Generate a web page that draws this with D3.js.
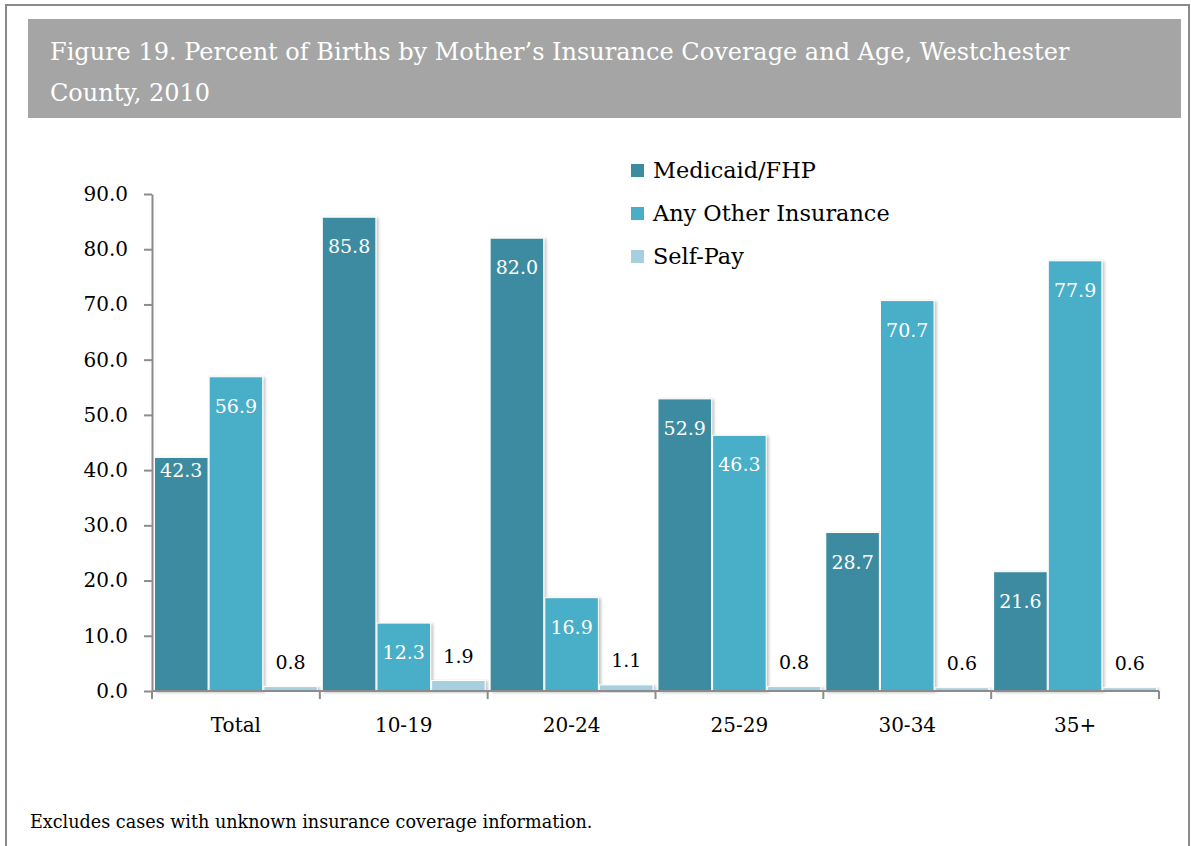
<!DOCTYPE html>
<meta charset="utf-8">
<style>
  body { margin: 0; background: #fff; }
  text { font-family: "DejaVu Serif", serif; }
  .axis path, .axis line { stroke: #8c8c8c; stroke-width: 2px; }
  .axis text { fill: #000; font-size: 20px; font-family: "DejaVu Serif", serif; }
</style>
<svg width="1191" height="846"></svg>
<script src="https://cdn.jsdelivr.net/npm/d3@7"></script>
<script>

  // data
  var categories = ["Total", "10-19", "20-24", "25-29", "30-34", "35+"];
  var seriesNames = ["Medicaid/FHP", "Any Other Insurance", "Self-Pay"];
  var medicaid = [42.3, 85.8, 82.0, 52.9, 28.7, 21.6];
  var otherIns = [56.9, 12.3, 16.9, 46.3, 70.7, 77.9];
  var selfPay = [0.8, 1.9, 1.1, 0.8, 0.6, 0.6];
  var yTicks = [0, 10, 20, 30, 40, 50, 60, 70, 80, 90];
  var colors = ["#3d8ba1", "#4aaec8", "#a8cfe0"];

  var series = [medicaid, otherIns, selfPay];

  var svg = d3.select("svg");

  var defs = svg.append("defs");
  var f = defs.append("filter").attr("id", "shadow")
      .attr("x", "-10%").attr("y", "-10%").attr("width", "130%").attr("height", "130%");
  f.append("feDropShadow").attr("dx", 2).attr("dy", 1).attr("stdDeviation", 1.5)
      .attr("flood-color", "#000").attr("flood-opacity", 0.25);

  // outer frame
  svg.append("path")
      .attr("d", "M6,846 V5 H1189 V846")
      .attr("fill", "none").attr("stroke", "#8a8a8a").attr("stroke-width", 2);

  // title band
  svg.append("rect").attr("x", 28).attr("y", 19).attr("width", 1153).attr("height", 99)
      .attr("fill", "#a5a5a5");
  var title = svg.append("text").attr("fill", "#fff").attr("font-size", 24);
  title.append("tspan").attr("x", 50).attr("y", 60)
      .text("Figure 19. Percent of Births by Mother\u2019s Insurance Coverage and Age, Westchester");
  title.append("tspan").attr("x", 50).attr("y", 101).text("County, 2010");

  var margin = {left: 152, right: 1159, top: 194, bottom: 691};

  var x0 = d3.scaleBand().domain(categories).range([margin.left, margin.right]).paddingInner(0).paddingOuter(0);
  var x1 = d3.scaleBand().domain(d3.range(series.length)).range([0, x0.bandwidth()]).paddingOuter(0.045).paddingInner(0.02);
  var y = d3.scaleLinear().domain([0, 90]).range([margin.bottom, margin.top]);

  // bars
  var groups = svg.append("g").selectAll("g").data(categories).join("g")
      .attr("transform", function (d) { return "translate(" + x0(d) + ",0)"; });

  groups.each(function (cat, ci) {
    var g = d3.select(this);
    series.forEach(function (vals, si) {
      var v = vals[ci];
      g.append("rect")
          .attr("x", x1(si))
          .attr("y", y(v))
          .attr("width", x1.bandwidth())
          .attr("height", y(0) - y(v))
          .attr("fill", colors[si])
          .attr("stroke", "#fff").attr("stroke-width", 1)
          .attr("filter", "url(#shadow)");
    });
  });

  groups.each(function (cat, ci) {
    var g = d3.select(this);
    series.forEach(function (vals, si) {
      var v = vals[ci];
      var inside = v > 5;
      var ty = inside ? y(v) + 36 : y(v) - 18;
      if (cat === "Total" && si === 0) ty = y(v) + 20;
      g.append("text")
          .attr("x", x1(si) + x1.bandwidth() / 2)
          .attr("y", ty)
          .attr("text-anchor", "middle")
          .attr("font-size", 19)
          .attr("fill", inside ? "#fff" : "#000")
          .text(v.toFixed(1));
    });
  });

  // axes
  svg.append("g").attr("class", "axis")
      .attr("transform", "translate(" + margin.left + ",0)")
      .call(d3.axisLeft(y).tickValues(yTicks).tickFormat(d3.format(".1f")).tickSize(8).tickSizeOuter(0).tickPadding(16));

  var xAxis = svg.append("g").attr("class", "axis")
      .attr("transform", "translate(0," + margin.bottom + ")");
  xAxis.append("path").attr("d", "M" + margin.left + ",0H" + margin.right);
  var bounds = categories.map(function (c) { return x0(c); }).concat([margin.right]);
  xAxis.selectAll("line").data(bounds).join("line")
      .attr("x1", function (d) { return d; }).attr("x2", function (d) { return d; })
      .attr("y1", 0).attr("y2", 8);
  xAxis.selectAll("text").data(categories).join("text")
      .attr("x", function (d) { return x0(d) + x0.bandwidth() / 2; })
      .attr("y", 41)
      .attr("text-anchor", "middle")
      .text(function (d) { return d; });

  // legend
  var legend = svg.append("g").selectAll("g").data(seriesNames).join("g")
      .attr("transform", function (d, i) { return "translate(631," + (164 + i * 43) + ")"; });
  legend.append("rect").attr("width", 13).attr("height", 13)
      .attr("fill", function (d, i) { return colors[i]; });
  legend.append("text").attr("x", 22).attr("y", 14).attr("font-size", 22.4)
      .text(function (d) { return d; });

  // footnote
  svg.append("text").attr("x", 30).attr("y", 828).attr("font-size", 17.6)
      .text("Excludes cases with unknown insurance coverage information.");

</script>
